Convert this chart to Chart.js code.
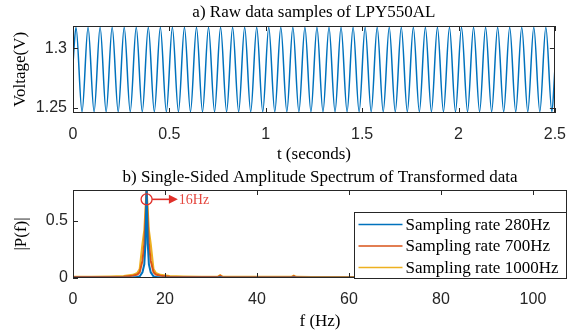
<!DOCTYPE html>
<html>
<head>
<meta charset="utf-8">
<script src="https://cdn.jsdelivr.net/npm/chart.js@4.4.0/dist/chart.umd.min.js"></script>
<style>
html, body { margin: 0; padding: 0; background: #fff; }
#wrap { position: relative; width: 578px; height: 334px; }
#c1 { position: absolute; left: 0; top: 0; }
#c2 { position: absolute; left: 0; top: 165px; }
</style>
</head>
<body>
<div id="wrap">
  <canvas id="c1" width="578" height="165"></canvas>
  <canvas id="c2" width="578" height="169"></canvas>
</div>
<script>
// Datos: a) muestras de voltaje (maximos y minimos leidos de la figura)
const times = [0, 0.0156, 0.0469, 0.0781, 0.1094, 0.1406, 0.1719, 0.2031, 0.2344, 0.2656, 0.2969,
  0.3281, 0.3594, 0.3906, 0.4219, 0.4531, 0.4844, 0.5156, 0.5469, 0.5781, 0.6094, 0.6406, 0.6719,
  0.7031, 0.7344, 0.7656, 0.7969, 0.8281, 0.8594, 0.8906, 0.9219, 0.9531, 0.9844, 1.0156, 1.0469,
  1.0781, 1.1094, 1.1406, 1.1719, 1.2031, 1.2344, 1.2656, 1.2969, 1.3281, 1.3594, 1.3906, 1.4219,
  1.4531, 1.4844, 1.5156, 1.5469, 1.5781, 1.6094, 1.6406, 1.6719, 1.7031, 1.7344, 1.7656, 1.7969,
  1.8281, 1.8594, 1.8906, 1.9219, 1.9531, 1.9844, 2.0156, 2.0469, 2.0781, 2.1094, 2.1406, 2.1719,
  2.2031, 2.2344, 2.2656, 2.2969, 2.3281, 2.3594, 2.3906, 2.4219, 2.4531, 2.4844, 2.5];
const volts = [1.2875, 1.318, 1.2465, 1.318, 1.2465, 1.318, 1.2465, 1.318, 1.2465, 1.318, 1.2465,
  1.318, 1.2465, 1.318, 1.2465, 1.318, 1.2465, 1.318, 1.2465, 1.318, 1.2465, 1.318, 1.2465,
  1.318, 1.2465, 1.318, 1.2465, 1.318, 1.2465, 1.318, 1.2465, 1.318, 1.2465, 1.318, 1.2465,
  1.318, 1.2465, 1.318, 1.2465, 1.318, 1.2465, 1.318, 1.2465, 1.318, 1.2465, 1.318, 1.2465,
  1.318, 1.2465, 1.318, 1.2465, 1.318, 1.2465, 1.318, 1.2465, 1.318, 1.2465, 1.318, 1.2465,
  1.318, 1.2465, 1.318, 1.2465, 1.318, 1.2465, 1.318, 1.2465, 1.318, 1.2465, 1.318, 1.2465,
  1.318, 1.2465, 1.318, 1.2465, 1.318, 1.2465, 1.318, 1.2465, 1.318, 1.2465, 1.282];

// Datos: b) espectro de amplitud
const freqs = [0, 4, 8, 11, 13, 14, 14.5, 15.1, 15.5, 15.75, 16, 16.25, 16.5, 16.9, 17.5, 18, 19,
  21, 24, 28, 31.5, 32, 32.5, 36, 40, 44, 47.5, 48, 48.5, 52, 56, 60, 70, 80, 90, 100, 108];
const amp280 = [0.002, 0.002, 0.002, 0.003, 0.004, 0.008, 0.015, 0.05, 0.12, 0.3, 0.78, 0.3, 0.12,
  0.05, 0.015, 0.008, 0.004, 0.003, 0.002, 0.002, 0.002, 0.006, 0.002, 0.002, 0.002, 0.002, 0.002,
  0.005, 0.002, 0.002, 0.002, 0.002, 0.002, 0.002, 0.002, 0.002, 0.002];
const amp700 = [0.008, 0.008, 0.009, 0.012, 0.02, 0.03, 0.05, 0.15, 0.3, 0.5, 0.78, 0.5, 0.3,
  0.15, 0.05, 0.03, 0.02, 0.012, 0.009, 0.008, 0.008, 0.02, 0.008, 0.007, 0.007, 0.006, 0.006,
  0.016, 0.006, 0.005, 0.005, 0.005, 0.004, 0.004, 0.004, 0.004, 0.004];
const amp1000 = [0.012, 0.012, 0.014, 0.018, 0.028, 0.045, 0.08, 0.3, 0.42, 0.6, 0.78, 0.6, 0.42,
  0.3, 0.08, 0.045, 0.028, 0.018, 0.014, 0.012, 0.012, 0.025, 0.012, 0.011, 0.01, 0.01, 0.01,
  0.02, 0.01, 0.009, 0.008, 0.008, 0.007, 0.007, 0.006, 0.006, 0.006];
const seriesNames = ['Sampling rate 280Hz', 'Sampling rate 700Hz', 'Sampling rate 1000Hz'];
const seriesColors = ['#0072BD', '#D95319', '#EDB120'];

// Ticks
const timeTicks = [0, 0.5, 1, 1.5, 2, 2.5];
const voltTicks = [1.25, 1.3];
const freqTicks = [0, 20, 40, 60, 80, 100];
const ampTicks = [0, 0.5];

// Anotacion del pico
const peakFreq = 16;
const peakMark = 0.69;
const arrowEnd = 22.8;
const peakLabel = '16Hz';

const serif = "'Liberation Serif', 'Times New Roman', serif";
const sans = "'Liberation Sans', Arial, sans-serif";
Chart.defaults.font.family = sans;
Chart.defaults.color = '#262626';

const fixed = list => scale => { scale.ticks = list.map(v => ({ value: v })); };
const toXY = (xs, ys) => xs.map((x, i) => ({ x: x, y: ys[i] }));

// titulo centrado sobre el area de ejes (como MATLAB)
const axTitle = {
    id: 'axTitle',
    afterDraw(chart, args, opts) {
        const { ctx, chartArea: a } = chart;
        ctx.save();
        ctx.fillStyle = '#000';
        ctx.font = '17px ' + serif;
        ctx.textAlign = 'center';
        ctx.textBaseline = 'middle';
        ctx.fillText(opts.text, (a.left + a.right) / 2, opts.y);
        ctx.restore();
    }
};

// caja estilo MATLAB con ticks hacia dentro
const boxPlugin = {
    id: 'box',
    afterDatasetsDraw(chart) {
        const { ctx, chartArea: a, scales: { x, y } } = chart;
        ctx.save();
        ctx.strokeStyle = '#262626';
        ctx.lineWidth = 1;
        ctx.beginPath();
        x.ticks.forEach(t => {
            const px = Math.round(x.getPixelForValue(t.value)) + 0.5;
            ctx.moveTo(px, a.bottom); ctx.lineTo(px, a.bottom - 5);
            ctx.moveTo(px, a.top); ctx.lineTo(px, a.top + 5);
        });
        y.ticks.forEach(t => {
            const py = Math.round(y.getPixelForValue(t.value)) + 0.5;
            ctx.moveTo(a.left, py); ctx.lineTo(a.left + 5, py);
            ctx.moveTo(a.right, py); ctx.lineTo(a.right - 5, py);
        });
        ctx.stroke();
        ctx.strokeRect(Math.round(a.left) + 0.5, Math.round(a.top) + 0.5,
            Math.round(a.width) - 1, Math.round(a.height) - 1);
        ctx.restore();
    }
};

const annotPlugin = {
    id: 'annot',
    afterDatasetsDraw(chart) {
        const { ctx, scales: { x, y } } = chart;
        const cx = x.getPixelForValue(peakFreq);
        const cy = y.getPixelForValue(peakMark);
        const tip = x.getPixelForValue(arrowEnd);
        ctx.save();
        ctx.strokeStyle = '#E0302A';
        ctx.fillStyle = '#E0302A';
        ctx.lineWidth = 1.3;
        ctx.beginPath();
        ctx.arc(cx, cy, 5.5, 0, Math.PI * 2);
        ctx.stroke();
        ctx.lineWidth = 1.6;
        ctx.beginPath();
        ctx.moveTo(cx + 5.5, cy);
        ctx.lineTo(tip - 6, cy);
        ctx.stroke();
        ctx.beginPath();
        ctx.moveTo(tip, cy);
        ctx.lineTo(tip - 9, cy - 4.5);
        ctx.lineTo(tip - 9, cy + 4.5);
        ctx.closePath();
        ctx.fill();
        ctx.fillStyle = '#E5473F';
        ctx.font = '14px ' + serif;
        ctx.textBaseline = 'middle';
        ctx.fillText(peakLabel, tip + 1, cy + 1);
        ctx.restore();
    }
};

const legendPlugin = {
    id: 'legendBox',
    afterDraw(chart) {
        const { ctx, chartArea: a } = chart;
        const right = Math.round(a.right) - 0.5;
        const bottom = Math.round(a.bottom) + 0.5;
        const left = 354.5, top = 47.5;
        ctx.save();
        ctx.fillStyle = '#fff';
        ctx.fillRect(left, top, right - left, bottom - top);
        ctx.strokeStyle = '#262626';
        ctx.lineWidth = 1;
        ctx.strokeRect(left, top, right - left, bottom - top);
        ctx.font = '17px ' + serif;
        ctx.textBaseline = 'middle';
        seriesNames.forEach((name, i) => {
            const yy = top + 12 + i * 21.5;
            ctx.strokeStyle = seriesColors[i];
            ctx.lineWidth = 1.5;
            ctx.beginPath();
            ctx.moveTo(left + 4, yy);
            ctx.lineTo(left + 48, yy);
            ctx.stroke();
            ctx.fillStyle = '#000';
            ctx.fillText(name, left + 51, yy + 1);
        });
        ctx.restore();
    }
};

// a) Raw data
new Chart(document.getElementById('c1').getContext('2d'), {
    type: 'line',
    data: {
        datasets: [{
            data: toXY(times, volts),
            borderColor: '#0072BD',
            borderWidth: 1.5,
            pointRadius: 0,
            cubicInterpolationMode: 'monotone',
            fill: false
        }]
    },
    options: {
        responsive: false,
        animation: false,
        layout: { padding: { left: 0, right: 11, top: 26, bottom: 0 } },
        plugins: {
            legend: { display: false },
            tooltip: { enabled: false },
            axTitle: { text: 'a) Raw data samples of LPY550AL', y: 13 }
        },
        scales: {
            x: {
                type: 'linear', min: 0, max: 2.5,
                grid: { display: false, drawTicks: false },
                border: { display: false },
                afterBuildTicks: fixed(timeTicks),
                afterFit: s => { s.height = 52; },
                ticks: { font: { size: 16 }, padding: 12, maxRotation: 0, autoSkip: false, callback: v => String(v) },
                title: { display: true, text: 't (seconds)', font: { family: serif, size: 17 }, color: '#000', padding: { top: 0, bottom: 0 } }
            },
            y: {
                type: 'linear', min: 1.2455, max: 1.319,
                grid: { display: false, drawTicks: false },
                border: { display: false },
                afterBuildTicks: fixed(voltTicks),
                afterFit: s => { s.width = 73; },
                ticks: { font: { size: 16 }, padding: 6, autoSkip: false, callback: v => String(v) },
                title: { display: true, text: 'Voltage(V)', font: { family: serif, size: 17 }, color: '#000', padding: { top: 10, bottom: 0 } }
            }
        }
    },
    plugins: [boxPlugin, axTitle]
});

// b) Espectro
new Chart(document.getElementById('c2').getContext('2d'), {
    type: 'line',
    data: {
        datasets: [amp280, amp700, amp1000].map((vals, i) => ({
            label: seriesNames[i],
            data: toXY(freqs, vals),
            borderColor: seriesColors[i],
            borderWidth: 2,
            pointRadius: 0,
            tension: 0,
            fill: false
        }))
    },
    options: {
        responsive: false,
        animation: false,
        layout: { padding: { left: 0, right: 11, top: 25, bottom: 0 } },
        plugins: {
            legend: { display: false },
            tooltip: { enabled: false },
            axTitle: { text: 'b) Single-Sided Amplitude Spectrum of Transformed data', y: 13 }
        },
        scales: {
            x: {
                type: 'linear', min: 0, max: 107.4,
                grid: { display: false, drawTicks: false },
                border: { display: false },
                afterBuildTicks: fixed(freqTicks),
                afterFit: s => { s.height = 56; },
                ticks: { font: { size: 16 }, padding: 12, maxRotation: 0, autoSkip: false, callback: v => String(v) },
                title: { display: true, text: 'f (Hz)', font: { family: serif, size: 17 }, color: '#000', padding: { top: 0, bottom: 1.8 } }
            },
            y: {
                type: 'linear', min: 0, max: 0.772,
                grid: { display: false, drawTicks: false },
                border: { display: false },
                afterBuildTicks: fixed(ampTicks),
                afterFit: s => { s.width = 73; },
                ticks: { font: { size: 16 }, padding: 5, autoSkip: false, callback: v => String(v) },
                title: { display: true, text: '|P(f)|', font: { family: serif, size: 17 }, color: '#000', padding: { top: 11, bottom: 0 } }
            }
        }
    },
    plugins: [boxPlugin, annotPlugin, legendPlugin, axTitle]
});
</script>
</body>
</html>
